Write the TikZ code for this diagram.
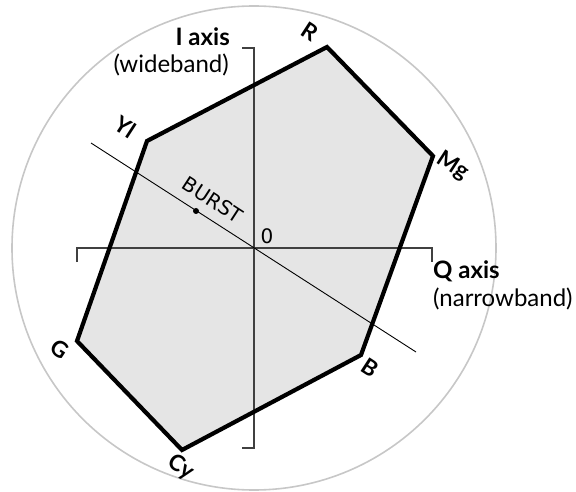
\documentclass[tikz,border=0pt]{standalone}
\usepackage{fontspec}
\setmainfont{Lato}
\newfontfamily\dejavu{DejaVu Sans}
\begin{document}
\begin{tikzpicture}[x=1pt,y=-1pt,
  ring/.style={draw=black!22, line width=1.6pt},
  hexfill/.style={fill=black!10},
  hexedge/.style={draw=black, line width=4.2pt, line join=miter},
  axisline/.style={draw=black!75, line width=1.3pt},
  burstline/.style={draw=black, line width=0.9pt},
  vlabel/.style={font=\bfseries\fontsize{22.5}{22.5}\selectfont, rotate=-33, inner sep=0pt},
  axtitle/.style={font=\bfseries\fontsize{24}{26}\selectfont, inner sep=0pt},
  axsub/.style={font=\fontsize{24}{26}\selectfont, inner sep=0pt},
  djlabel/.style={font=\dejavu\fontsize{20}{20}\selectfont, inner sep=0pt}
]
\useasboundingbox (0,0) rectangle (576,492);
% ring
\coordinate (O) at (254,248);
\draw[ring] (O) circle[radius=242];
% hexagon vertices
\coordinate (R) at (327,47);
\coordinate (Mg) at (433,156);
\coordinate (B) at (361,355);
\coordinate (Cy) at (182,450);
\coordinate (G) at (77,341);
\coordinate (Yl) at (147,141);
\fill[hexfill] (R) -- (Mg) -- (B) -- (Cy) -- (G) -- (Yl) -- cycle;
% axes
\coordinate (It) at (254,48);
\coordinate (Itk) at (242,48);
\coordinate (Ib) at (254,448);
\coordinate (Ibk) at (242,448);
\coordinate (Ql) at (77,248);
\coordinate (Qlk) at (77,262);
\coordinate (Qr) at (432,248);
\coordinate (Qrk) at (432,262);
\draw[axisline] (Itk) -- (It) -- (Ib) -- (Ibk);
\draw[axisline] (Qlk) -- (Ql) -- (Qr) -- (Qrk);
% burst line
\coordinate (Bs) at (91,143);
\coordinate (Be) at (416,352);
\draw[burstline] (Bs) -- (Be);
\node[circle, fill=black, inner sep=0pt, minimum size=6pt] (dot) at (196,211) {};
% hexagon outline
\draw[hexedge] (R) -- (Mg) -- (B) -- (Cy) -- (G) -- (Yl) -- cycle;
% labels
\node[vlabel] (lR) at (310,32) {R};
\node[vlabel] (lYl) at (125,127) {Yl};
\node[vlabel] (lMg) at (453,166) {Mg};
\node[vlabel] (lB) at (370,368) {B};
\node[vlabel] (lCy) at (181,467) {Cy};
\node[vlabel] (lG) at (60,349) {G};
\node[djlabel, rotate=-33] (lburst) at (213,200) {BURST};
\node[djlabel] (lzero) at (267,236) {0};
\node[axtitle, anchor=base east] (lI) at (230,46) {I axis};
\node[axsub, anchor=base east] (lIs) at (229,73) {(wideband)};
\node[axtitle, anchor=base west] (lQ) at (433,278) {Q axis};
\node[axsub, anchor=base west] (lQs) at (433,306) {(narrowband)};
\end{tikzpicture}
\end{document}
